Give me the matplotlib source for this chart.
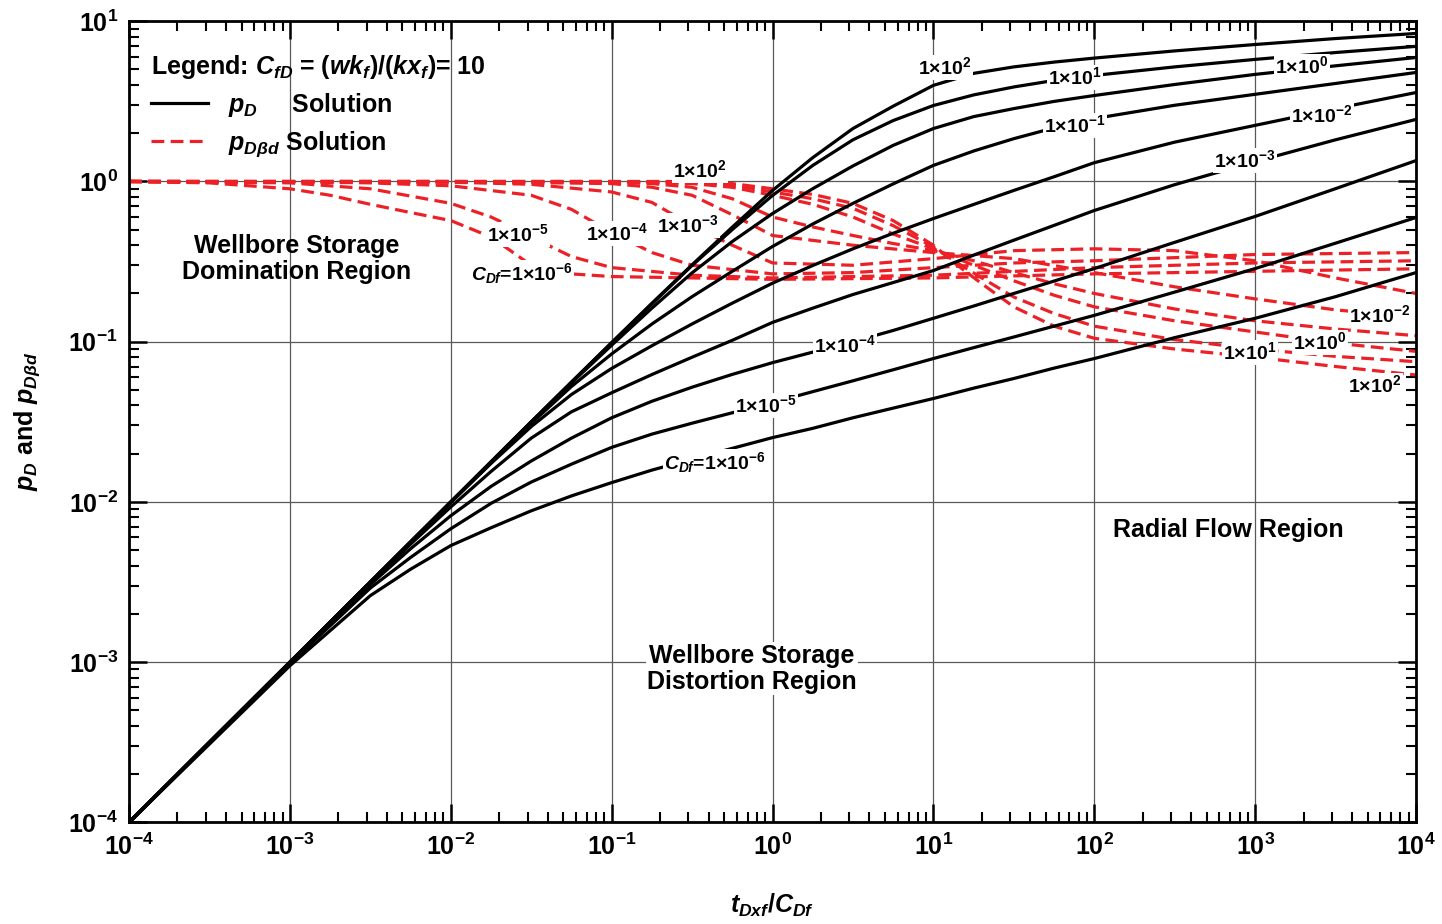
import numpy as np
import matplotlib
matplotlib.use('Agg')
import matplotlib.pyplot as plt
from matplotlib.ticker import FixedLocator, FixedFormatter, LogLocator, NullFormatter

plt.rcParams['font.family'] = ['Liberation Sans', 'DejaVu Sans']
plt.rcParams['font.weight'] = 'bold'
plt.rcParams['mathtext.fontset'] = 'custom'
plt.rcParams['mathtext.rm'] = 'Liberation Sans:bold'
plt.rcParams['mathtext.bf'] = 'Liberation Sans:bold'
plt.rcParams['mathtext.it'] = 'Liberation Sans:bold:italic'

t_pd = [1e-4, 1e-3, 3.16e-3, 5.62e-3, 1e-2, 1.78e-2, 3.16e-2, 5.62e-2, 0.1, 0.178, 0.316, 0.562,
        1, 1.78, 3.16, 5.62, 10, 17.8, 31.6, 56.2, 100, 316, 1000, 3160, 10000]
pd_m6 = [1e-4, 9.5e-4, 2.6e-3, 3.8e-3, 0.00534, 0.0069, 0.0088, 0.0109, 0.0132, 0.0158, 0.0185, 0.0216,
         0.0252, 0.0288, 0.0335, 0.0385, 0.0442, 0.0513, 0.0589, 0.0684, 0.0785, 0.106, 0.14, 0.191, 0.27]
pd_m5 = [1e-4, 9.8e-4, 2.9e-3, 4.5e-3, 0.0068, 0.0098, 0.0133, 0.0172, 0.0219, 0.0265, 0.031, 0.036,
         0.0417, 0.0488, 0.057, 0.0668, 0.0785, 0.0918, 0.107, 0.125, 0.146, 0.204, 0.286, 0.412, 0.596]
pd_m4 = [1e-4, 1e-3, 3.05e-3, 5.1e-3, 0.0082, 0.0125, 0.018, 0.025, 0.0335, 0.0425, 0.052, 0.0625,
         0.074, 0.0861, 0.1, 0.1175, 0.14, 0.167, 0.2, 0.239, 0.286, 0.417, 0.605, 0.902, 1.35]
pd_m3 = [1e-4, 1e-3, 3.12e-3, 5.45e-3, 0.0093, 0.0155, 0.025, 0.0365, 0.048, 0.0624, 0.080, 0.102,
         0.132, 0.162, 0.197, 0.234, 0.278, 0.347, 0.430, 0.532, 0.659, 0.955, 1.33, 1.82, 2.44]
pd_m2 = [1e-4, 1e-3, 3.16e-3, 5.62e-3, 0.0099, 0.0174, 0.0295, 0.0468, 0.0681, 0.0944, 0.129, 0.174,
         0.232, 0.299, 0.380, 0.475, 0.587, 0.719, 0.879, 1.07, 1.31, 1.76, 2.24, 2.85, 3.59]
pd_m1 = [1e-4, 1e-3, 3.16e-3, 5.62e-3, 0.01, 0.0176, 0.0309, 0.0525, 0.0839, 0.129, 0.191, 0.275,
         0.393, 0.543, 0.730, 0.966, 1.26, 1.55, 1.85, 2.16, 2.47, 2.99, 3.50, 4.09, 4.79]
pd_p0 = [1e-4, 1e-3, 3.16e-3, 5.62e-3, 0.01, 0.0178, 0.0315, 0.0553, 0.0951, 0.162, 0.269, 0.422,
         0.631, 0.902, 1.25, 1.68, 2.14, 2.54, 2.85, 3.16, 3.44, 4.03, 4.66, 5.27, 5.94]
pd_p1 = [1e-4, 1e-3, 3.16e-3, 5.62e-3, 0.01, 0.0178, 0.0316, 0.0558, 0.0982, 0.172, 0.299, 0.501,
         0.818, 1.26, 1.82, 2.40, 2.98, 3.47, 3.89, 4.27, 4.59, 5.19, 5.78, 6.38, 6.97]
pd_p2 = [1e-4, 1e-3, 3.16e-3, 5.62e-3, 0.01, 0.0178, 0.0316, 0.056, 0.0989, 0.174, 0.302, 0.519,
         0.879, 1.41, 2.14, 2.95, 3.98, 4.73, 5.19, 5.56, 5.89, 6.53, 7.16, 7.80, 8.39]
pd_all = [pd_m6, pd_m5, pd_m4, pd_m3, pd_m2, pd_m1, pd_p0, pd_p1, pd_p2]

# pDbd solution (red dashed)
rt_m6 = [1e-4, 3.16e-4, 1e-3, 1.78e-3, 3.16e-3, 5.62e-3, 1e-2, 1.78e-2, 3.16e-2, 5.62e-2, 0.1, 0.316, 1, 10, 100, 1000, 10000]
rd_m6 = [1.0, 0.98, 0.90, 0.82, 0.72, 0.64, 0.57, 0.45, 0.30, 0.265, 0.255, 0.25, 0.245, 0.25, 0.265, 0.275, 0.285]
rt_m5 = [1e-4, 1e-3, 3.16e-3, 1e-2, 1.78e-2, 2.6e-2, 3.16e-2, 5.62e-2, 0.1, 0.316, 1, 10, 100, 1000, 10000]
rd_m5 = [1.0, 0.98, 0.90, 0.73, 0.60, 0.50, 0.45, 0.34, 0.29, 0.26, 0.25, 0.26, 0.29, 0.31, 0.32]
rt_m4 = [1e-4, 1e-3, 3.16e-3, 1e-2, 3.16e-2, 5.62e-2, 0.1, 0.178, 0.316, 1, 3.16, 10, 31.6, 100, 1000, 10000]
rd_m4 = [1.0, 0.995, 0.98, 0.94, 0.82, 0.67, 0.48, 0.36, 0.30, 0.265, 0.27, 0.29, 0.31, 0.32, 0.35, 0.36]
rt_m3 = [1e-4, 1e-2, 3.16e-2, 0.1, 0.178, 0.316, 0.562, 1, 3.16, 10, 31.6, 100, 316, 1000, 3160, 10000]
rd_m3 = [1.0, 0.99, 0.96, 0.86, 0.74, 0.53, 0.40, 0.31, 0.30, 0.33, 0.37, 0.38, 0.37, 0.32, 0.25, 0.20]
rt_m2 = [1e-4, 1e-2, 0.1, 0.178, 0.316, 0.562, 1, 3.16, 10, 31.6, 100, 316, 1000, 3160, 10000]
rd_m2 = [1.0, 1.0, 0.97, 0.92, 0.82, 0.62, 0.46, 0.40, 0.36, 0.33, 0.27, 0.22, 0.185, 0.158, 0.142]
rt_m1 = [1e-4, 0.1, 0.178, 0.316, 0.562, 1, 1.78, 3.16, 5.62, 10, 17.8, 31.6, 56.2, 100, 316, 1000, 3160, 10000]
rd_m1 = [1.0, 0.99, 0.97, 0.92, 0.78, 0.60, 0.52, 0.46, 0.41, 0.37, 0.32, 0.27, 0.23, 0.20, 0.16, 0.135, 0.12, 0.109]
rt_p0 = [1e-4, 0.1, 0.316, 0.562, 1, 1.78, 3.16, 5.62, 10, 17.8, 31.6, 56.2, 100, 316, 1000, 3160, 10000]
rd_p0 = [1.0, 1.0, 0.97, 0.92, 0.82, 0.72, 0.60, 0.47, 0.38, 0.30, 0.24, 0.195, 0.165, 0.135, 0.115, 0.098, 0.087]
rt_p1 = [1e-4, 0.316, 0.562, 1, 1.78, 3.16, 5.62, 10, 14.1, 20, 31.6, 56.2, 100, 316, 1000, 3160, 10000]
rd_p1 = [1.0, 0.99, 0.95, 0.86, 0.78, 0.68, 0.53, 0.39, 0.31, 0.25, 0.19, 0.15, 0.125, 0.103, 0.09, 0.081, 0.075]
rt_p2 = [1e-4, 0.316, 0.562, 1, 1.78, 3.16, 5.62, 10, 14.1, 20, 31.6, 56.2, 100, 316, 1000, 3160, 10000]
rd_p2 = [1.0, 1.0, 0.97, 0.90, 0.83, 0.73, 0.57, 0.40, 0.30, 0.23, 0.165, 0.125, 0.105, 0.09, 0.08, 0.07, 0.062]
rt_all = [rt_m6, rt_m5, rt_m4, rt_m3, rt_m2, rt_m1, rt_p0, rt_p1, rt_p2]
rd_all = [rd_m6, rd_m5, rd_m4, rd_m3, rd_m2, rd_m1, rd_p0, rd_p1, rd_p2]

tick_exp_x = list(range(-4, 5))
tick_exp_y = list(range(-4, 2))

red = '#ec2127'

fig = plt.figure(figsize=(14.42, 9.24), dpi=100)
ax = fig.add_axes([0.0895, 0.110, 0.8925, 0.867])
ax.set_xscale('log')
ax.set_yscale('log')
ax.set_xlim(1e-4, 1e4)
ax.set_ylim(1e-4, 1e1)

ax.set_axisbelow(True)
ax.grid(which='major', color='0.35', lw=0.9)

red_lines = []
for t, v in zip(rt_all, rd_all):
    ln, = ax.plot(t, v, color=red, lw=2.3, dashes=(4, 2), zorder=2)
    red_lines.append(ln)
black_lines = []
for v in pd_all:
    ln, = ax.plot(t_pd, v, color='black', lw=2.3, zorder=3)
    black_lines.append(ln)

# ticks
ax.xaxis.set_major_locator(FixedLocator([10.0 ** e for e in tick_exp_x]))
ax.xaxis.set_major_formatter(FixedFormatter([r'$10^{%d}$' % e for e in tick_exp_x]))
ax.yaxis.set_major_locator(FixedLocator([10.0 ** e for e in tick_exp_y]))
ax.yaxis.set_major_formatter(FixedFormatter([r'$10^{%d}$' % e for e in tick_exp_y]))
for a in (ax.xaxis, ax.yaxis):
    a.set_minor_locator(LogLocator(base=10, subs=np.arange(2, 10), numticks=20))
    a.set_minor_formatter(NullFormatter())
ax.tick_params(which='both', direction='in', top=True, right=True, labelsize=18)
ax.tick_params(which='major', length=13, width=1.8, pad=8)
ax.tick_params(which='minor', length=7, width=1.5)
for s in ax.spines.values():
    s.set_linewidth(2.0)

ax.set_xlabel(r'$t_{Dxf}/C_{Df}$', fontsize=18, labelpad=23)
ax.set_ylabel(r'$p_D$ and $p_{D\beta d}$', fontsize=18, fontweight='bold', labelpad=19)

# legend
leg = ax.legend([black_lines[0], red_lines[0]],
                [r'$p_D$     Solution', r'$p_{D\beta d}$ Solution'],
                loc='upper left', bbox_to_anchor=(-0.0075, 1.0), frameon=False,
                title=r'Legend: $C_{fD}$ = ($wk_f$)/($kx_f$)= 10',
                title_fontsize=18, fontsize=18, alignment='left',
                handlelength=2.3, handletextpad=0.8, labelspacing=0.42,
                borderaxespad=0.85)

box = dict(facecolor='white', edgecolor='none', pad=1.0)


def tag(x, y, s, size=14):
    ax.text(x, y, s, ha='center', va='center', fontsize=size, bbox=box, zorder=5)


# black curve labels
tag(11.8, 5.15, '1×10$^{2}$')
tag(75.7, 4.46, '1×10$^{1}$')
tag(1950, 5.22, '1×10$^{0}$')
tag(75.7, 2.24, '1×10$^{-1}$')
tag(2600, 2.58, '1×10$^{-2}$')
tag(863, 1.35, '1×10$^{-3}$')
tag(2.82, 0.0947, '1×10$^{-4}$')
tag(0.91, 0.040, '1×10$^{-5}$')
tag(0.44, 0.0176, '$C_{Df}$=1×10$^{-6}$')

# red curve labels
tag(0.354, 1.17, '1×10$^{2}$')
tag(0.298, 0.531, '1×10$^{-3}$')
tag(0.108, 0.473, '1×10$^{-4}$')
tag(0.0262, 0.467, '1×10$^{-5}$')
tag(0.0277, 0.267, '$C_{Df}$=1×10$^{-6}$')
tag(5960, 0.146, '1×10$^{-2}$')
tag(2525, 0.0989, '1×10$^{0}$')
tag(927, 0.0857, '1×10$^{1}$')
tag(5545, 0.0533, '1×10$^{2}$')

# region labels
ax.text(1.1e-3, 0.33, 'Wellbore Storage\nDomination Region', ha='center', va='center',
        fontsize=18, linespacing=1.1)
ax.text(0.745, 9.1e-4, 'Wellbore Storage\nDistortion Region', ha='center', va='center',
        fontsize=18, linespacing=1.1, bbox=box, zorder=5)
ax.text(676, 6.7e-3, 'Radial Flow Region', ha='center', va='center', fontsize=18)

fig.savefig('out.png', dpi=100)
